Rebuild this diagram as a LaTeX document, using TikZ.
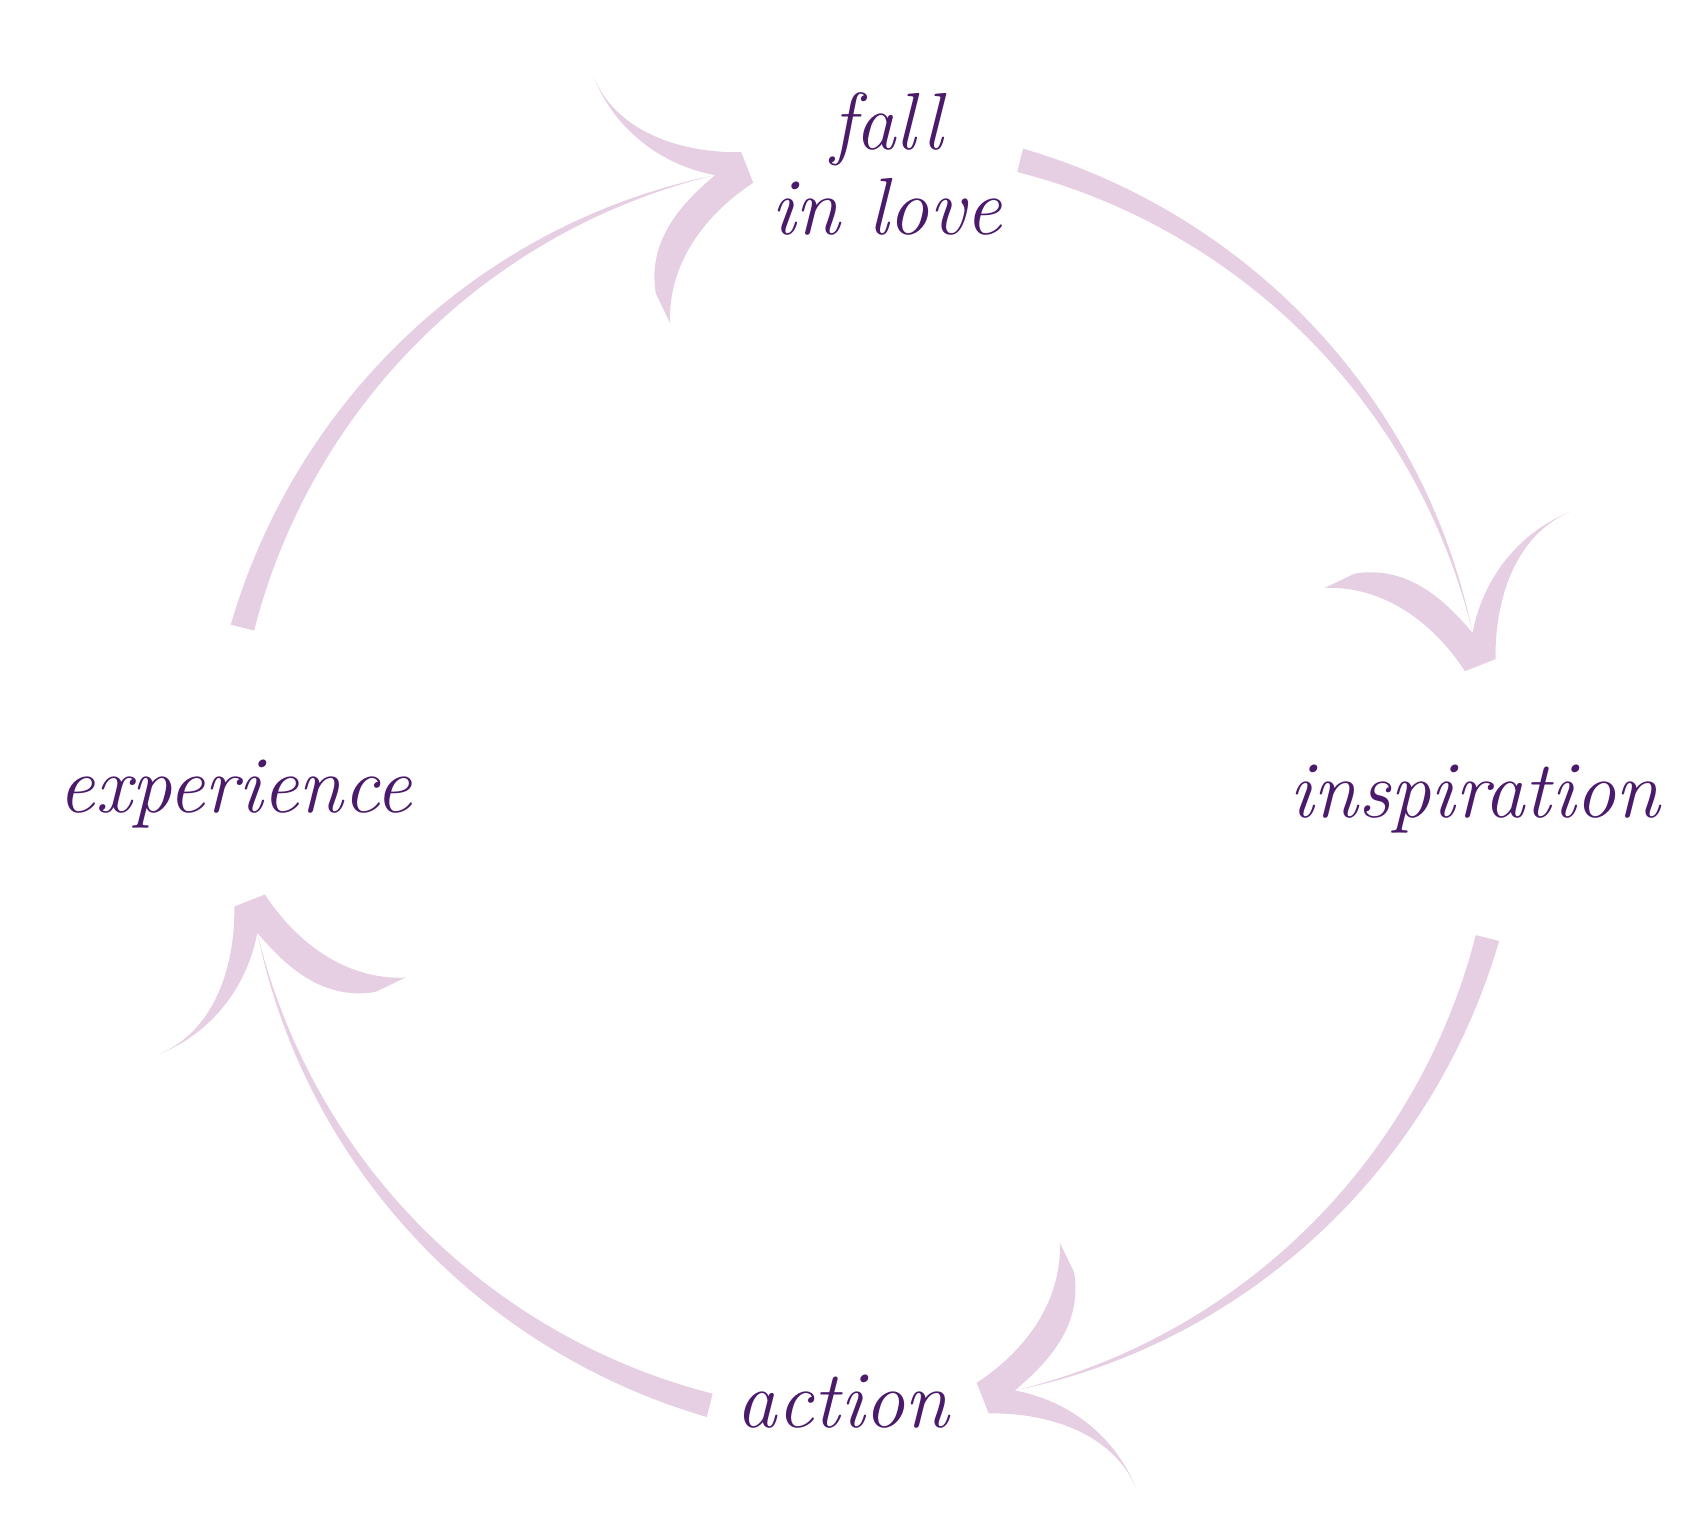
\documentclass[tikz,border=0pt]{standalone}
\usepackage{xcolor}
\definecolor{arrowpink}{HTML}{E6CFE3}
\definecolor{wordpurple}{HTML}{4B1A6B}
\tikzset{
  word/.style={text=wordpurple, font=\fontsize{21}{24}\selectfont\itshape, align=center, inner sep=0pt},
  cyclearrow/.style={fill=arrowpink, draw=none}
}
\newcommand{\cyclepiece}{%
  \fill[cyclearrow] plot[domain=76:14,samples=50]
      ({(586-(76-\x)*0.23+11*(\x-14)/62)*cos(\x)},{(586-(76-\x)*0.23+11*(\x-14)/62)*sin(\x)})
    -- plot[domain=14:76,samples=50]
      ({(586-(76-\x)*0.23-11*(\x-14)/62)*cos(\x)},{(586-(76-\x)*0.23-11*(\x-14)/62)*sin(\x)}) -- cycle;
  \fill[cyclearrow] (420,178) -- (447,191) .. controls (500,200) and (535,160) .. (555,137)
    .. controls (565,190) and (600,230) .. (645,248)
    .. controls (590,225) and (575,160) .. (576,113) -- (548,102)
    .. controls (520,145) and (475,180) .. (420,178) -- cycle;
}
\begin{document}
\begin{tikzpicture}[x=0.01cm,y=0.01cm]
  \useasboundingbox (-790,-674) rectangle (770,715);
  % the four arrows of the cycle
  \foreach \turn in {0,-90,-180,-270}
    \begin{scope}[rotate=\turn]\cyclepiece\end{scope};
  % labels
  \node[word] (love) at (20,565) {fall\\[-2pt]in love};
  \node[word] (inspiration) at (557,-15) {inspiration};
  \node[word] (action) at (-20,-565) {action};
  \node[word] (experience) at (-575,-10) {experience};
\end{tikzpicture}
\end{document}
